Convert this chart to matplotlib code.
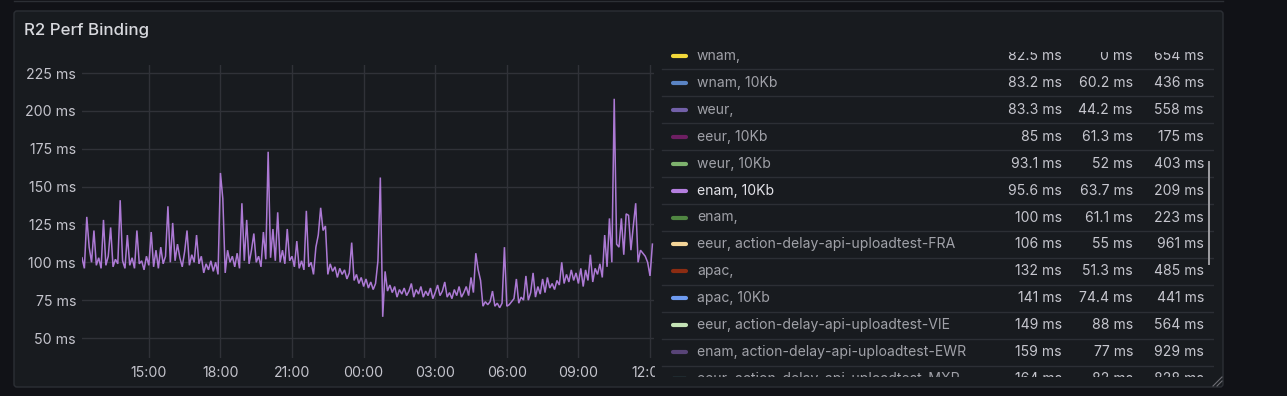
import matplotlib
matplotlib.use("Agg")
import matplotlib.pyplot as plt
from matplotlib.patches import FancyBboxPatch, Rectangle
import pandas as pd

plt.rcParams['font.family'] = ['Inter', 'DejaVu Sans']

# ---------------- data ----------------
title = "R2 Perf Binding"
start_time = "2024-01-01 12:12"
sample_step = "6min"
latency_ms = [
    103, 96, 130, 110, 100, 121, 98, 103, 96, 128,
    98, 104, 123, 97, 102, 99, 141, 101, 96, 118,
    98, 103, 96, 121, 99, 101, 95, 104, 98, 120,
    97, 108, 96, 110, 99, 104, 137, 100, 126, 101,
    112, 103, 97, 107, 121, 98, 105, 100, 118, 99,
    104, 93, 99, 95, 101, 94, 100, 92, 159, 142,
    93, 108, 100, 104, 97, 106, 96, 139, 101, 128,
    99, 108, 119, 100, 104, 97, 120, 102, 173, 103,
    122, 101, 133, 100, 108, 99, 122, 101, 104, 97,
    114, 96, 101, 95, 134, 97, 100, 92, 110, 118,
    136, 121, 124, 92, 99, 94, 97, 90, 96, 92,
    95, 89, 93, 113, 88, 92, 86, 90, 84, 89,
    83, 87, 82, 86, 101, 156, 64, 94, 81, 85,
    80, 84, 77, 82, 79, 83, 78, 81, 86, 77,
    82, 79, 84, 77, 81, 78, 83, 76, 80, 85,
    78, 81, 87, 77, 80, 76, 82, 78, 84, 77,
    80, 84, 78, 90, 80, 106, 95, 88, 71, 74,
    72, 74, 81, 71, 73, 70, 73, 110, 71, 72,
    74, 76, 89, 73, 77, 75, 91, 75, 80, 93,
    77, 84, 79, 89, 80, 90, 83, 86, 82, 88,
    85, 100, 86, 92, 87, 95, 88, 93, 86, 96,
    84, 95, 88, 105, 87, 96, 92, 99, 90, 118,
    97, 129, 100, 208, 112, 110, 129, 105, 132, 131,
    108, 124, 139, 100, 108, 106, 104, 100, 91, 112,
]
x_range = ["2024-01-01 12:12", "2024-01-02 12:10"]
y_range = [36.8, 230.3]
y_ticks = [50, 75, 100, 125, 150, 175, 200, 225]
y_tick_labels = ["50 ms", "75 ms", "100 ms", "125 ms", "150 ms", "175 ms", "200 ms", "225 ms"]
x_tick_times = ["2024-01-01 15:00", "2024-01-01 18:00", "2024-01-01 21:00",
                "2024-01-02 00:00", "2024-01-02 03:00", "2024-01-02 06:00",
                "2024-01-02 09:00", "2024-01-02 12:00"]
x_tick_labels = ["15:00", "18:00", "21:00", "00:00", "03:00", "06:00", "09:00", "12:00"]

legend_names = ["wnam,", "wnam, 10Kb", "weur,", "eeur, 10Kb", "weur, 10Kb", "enam, 10Kb",
                "enam,", "eeur, action-delay-api-uploadtest-FRA", "apac,", "apac, 10Kb",
                "eeur, action-delay-api-uploadtest-VIE", "enam, action-delay-api-uploadtest-EWR",
                "eeur, action-delay-api-uploadtest-MXP"]
legend_colors = ["#F2D83A", "#5A84C4", "#7260A8", "#6D1F62", "#7EB26D", "#B57FDF",
                 "#508642", "#F4D598", "#8C2C12", "#6E9BF0", "#C4E3B6", "#584477", "#70DBED"]
legend_mean = ["82.5 ms", "83.2 ms", "83.3 ms", "85 ms", "93.1 ms", "95.6 ms", "100 ms",
               "106 ms", "132 ms", "141 ms", "149 ms", "159 ms", "164 ms"]
legend_min = ["0 ms", "60.2 ms", "44.2 ms", "61.3 ms", "52 ms", "63.7 ms", "61.1 ms",
              "55 ms", "51.3 ms", "74.4 ms", "88 ms", "77 ms", "82 ms"]
legend_max = ["654 ms", "436 ms", "558 ms", "175 ms", "403 ms", "209 ms", "223 ms",
              "961 ms", "485 ms", "441 ms", "564 ms", "929 ms", "828 ms"]
shown_series = "enam, 10Kb"

# ---------------- style ----------------
W, H = 1287, 396
BG = "#111217"
PANEL = "#181b1f"
BORDER = "#2c2f35"
GRID = "#303238"
TICK = "#c4c4cc"
NAME = "#a0a1a8"
NAME_HI = "#e2e2e8"
VAL = "#c6c6ce"

fig = plt.figure(figsize=(W / 100, H / 100), dpi=100)
fig.patch.set_facecolor(BG)

bg = fig.add_axes([0, 0, 1, 1])
bg.set_xlim(0, W)
bg.set_ylim(H, 0)
bg.axis("off")
bg.patch.set_alpha(0)

bg.plot([14, 1223], [0.5, 0.5], color=BORDER, lw=1)
bg.add_patch(FancyBboxPatch((14, 11), 1209, 376,
                            boxstyle="round,pad=0,rounding_size=3",
                            fc=PANEL, ec=BORDER, lw=1))
bg.text(24, 30, title, fontsize=12.2, color="#d8d9de", va="center", ha="left",
        fontweight="medium")

# ---------------- chart ----------------
ax = fig.add_axes([82 / W, 1 - 358 / H, (654 - 82) / W, (358 - 65) / H])
ax.patch.set_alpha(0)
times = pd.date_range(start_time, periods=len(latency_ms), freq=sample_step)
series_color = legend_colors[legend_names.index(shown_series)]
ax.plot(times, latency_ms, color=series_color, lw=1.1, alpha=0.95,
        solid_joinstyle="miter")
ax.set_xlim(pd.Timestamp(x_range[0]), pd.Timestamp(x_range[1]))
ax.set_ylim(*y_range)
ax.set_yticks(y_ticks)
ax.set_yticklabels(y_tick_labels)
ax.set_xticks([pd.Timestamp(t) for t in x_tick_times])
ax.set_xticklabels(x_tick_labels)
for s in ax.spines.values():
    s.set_visible(False)
ax.grid(True, color=GRID, lw=1)
ax.set_axisbelow(True)
ax.tick_params(axis="both", length=0, labelcolor=TICK, labelsize=10.2)
ax.tick_params(axis="y", pad=4.3)
ax.tick_params(axis="x", pad=5.5)

# ---------------- legend table (drawn over the chart's right edge) ----------------
lt = fig.add_axes([655 / W, 1 - 377 / H, (1214 - 655) / W, (377 - 52) / H])
lt.set_xlim(655, 1214)
lt.set_ylim(377, 52)
lt.set_facecolor(PANEL)
for s in lt.spines.values():
    s.set_visible(False)
lt.set_xticks([])
lt.set_yticks([])

row_h = 26.95
first_center = 55.8
for k, name in enumerate(legend_names):
    yc = first_center + row_h * k
    lt.plot([672.5, 685.5], [yc, yc], color=legend_colors[k], lw=3.0,
            solid_capstyle="round", clip_on=True)
    lt.text(697, yc, name, fontsize=10.1, color=NAME_HI if name == shown_series else NAME,
            va="center", ha="left", clip_on=True)
    for xr, val in zip([1062, 1133, 1204], [legend_mean[k], legend_min[k], legend_max[k]]):
        lt.text(xr, yc, val, fontsize=10.1, color=VAL, va="center", ha="right", clip_on=True)
    if k < len(legend_names) - 1:
        ysep = first_center + row_h * (k + 0.5)
        lt.plot([662, 1214], [ysep, ysep], color=BORDER, lw=1, clip_on=True)

# scrollbar + resize handle on top
top = fig.add_axes([0, 0, 1, 1])
top.set_xlim(0, W)
top.set_ylim(H, 0)
top.axis("off")
top.patch.set_alpha(0)
top.add_patch(Rectangle((1208.3, 161), 2, 104, fc="#9a9a9e", ec="none"))
top.plot([1213, 1222], [386, 377], color="#6e6e74", lw=0.8)
top.plot([1217, 1222], [386, 381], color="#6e6e74", lw=0.8)

fig.savefig("out.png", dpi=100, facecolor=BG)
